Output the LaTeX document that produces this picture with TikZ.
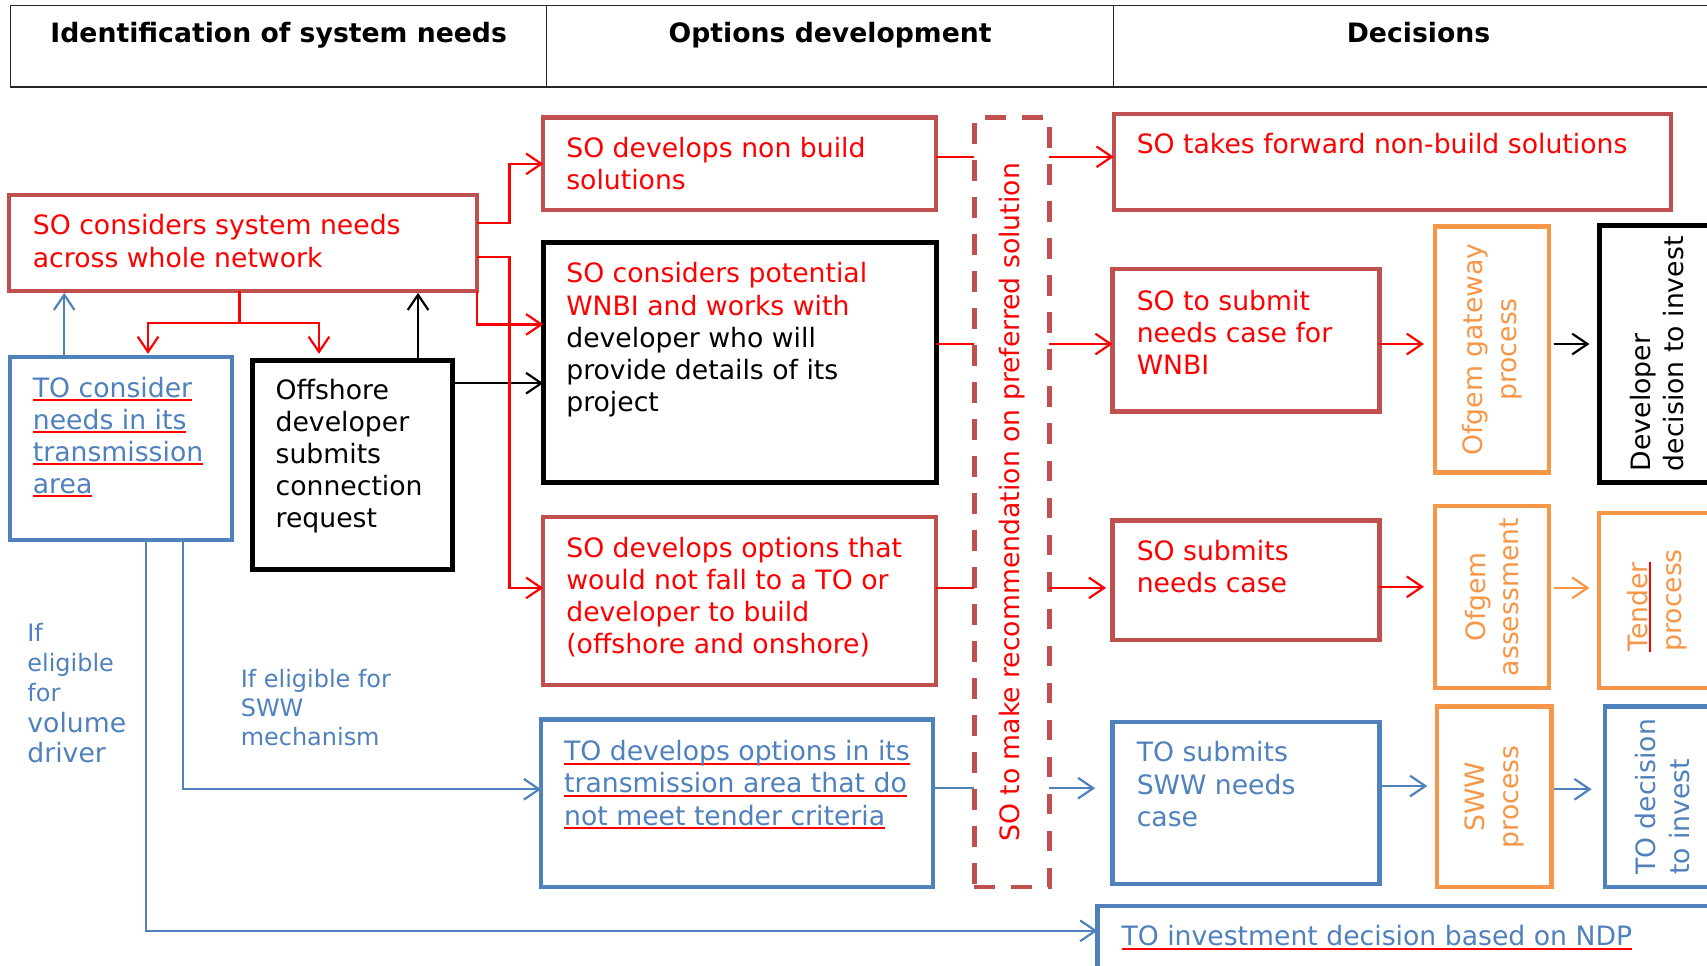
\documentclass[tikz,border=0pt]{standalone}
\usepackage{fontspec}
\setmainfont{DejaVu Sans}
\usetikzlibrary{arrows.meta}
\definecolor{boxred}{HTML}{C0504D}
\definecolor{txred}{HTML}{FF0000}
\definecolor{toblue}{HTML}{4F81BD}
\definecolor{oforange}{HTML}{F79646}
\newlength\rulw
\newcommand\rul[1]{\settowidth\rulw{#1}\rlap{\textcolor{txred}{\rule[-3.4pt]{\rulw}{1.8pt}}}#1}
\newcommand\bodyfont{\fontsize{24.5}{29.5}\selectfont}
\newcommand\labfont{\fontsize{22}{27.5}\selectfont}
\begin{document}
\begin{tikzpicture}[x=1pt,y=-1pt,
  box/.style={draw, rectangle, line width=4pt, inner sep=0pt, outer sep=0pt, anchor=north west},
  redbox/.style={box, draw=boxred},
  bluebox/.style={box, draw=toblue},
  blackbox/.style={box, draw=black, line width=4.5pt},
  orbox/.style={box, draw=oforange},
  hcell/.style={draw=black!85, line width=1pt, rectangle, inner sep=0pt, outer sep=0pt, anchor=north west, minimum height=75},
  htxt/.style={font=\bodyfont\bfseries, inner sep=0pt, anchor=north},
  txt/.style={font=\bodyfont, align=left, inner sep=0pt, anchor=north west},
  rtxt/.style={font=\fontsize{24.5}{31}\selectfont, inner sep=0pt, rotate=90},
  conn/.style={line width=2pt, -{Straight Barb[length=14pt,width=19pt]}},
  plain/.style={line width=2pt},
]
\useasboundingbox (0,0) rectangle (1568,887);
\fill[white] (0,0) rectangle (1568,887);

% header
\node[hcell, minimum width=492] (h1) at (10,5) {};
\node[hcell, minimum width=521] (h2) at (502,5) {};
\node[hcell, minimum width=560] (h3) at (1023,5) {};
\draw[black!85, line width=2pt] (h1.south west) -- (h3.south east);
\node[htxt] (h1T) at ([yshift=-13pt]h1.north) {\strut Identification of system needs};
\node[htxt] (h2T) at ([yshift=-13pt]h2.north) {\strut Options development};
\node[htxt] (h3T) at ([yshift=-13pt]h3.north) {\strut Decisions};

% identification column
\node[redbox, minimum width=430, minimum height=88] (soneeds) at (8,179) {};
\node[txt, text=txred] (soneedsT) at ([shift={(22,16)}]soneeds.north west) {\strut SO considers system needs\\across whole network};

\node[bluebox, minimum width=204, minimum height=168] (toneeds) at (9,328) {};
\node[txt, text=toblue] (toneedsT) at ([shift={(21,16)}]toneeds.north west) {\strut\rul{TO consider}\\\rul{needs in its}\\\rul{transmission}\\\rul{area}};

\node[blackbox, minimum width=184, minimum height=192] (offshore) at (232,331) {};
\node[txt] (offshoreT) at ([shift={(21,15)}]offshore.north west) {\strut Offshore\\developer\\submits\\connection\\request};

\node[txt, text=toblue, font=\labfont] (vol1) at (25,570) {\strut If\\eligible\\for};
\node[txt, text=toblue, font=\fontsize{24.5}{28}\selectfont] (vol2) at (25,653) {\strut volume\\driver};
\node[txt, text=toblue, font=\fontsize{22}{26.5}\selectfont] (swwlab) at (221,613) {\strut If eligible for\\SWW\\mechanism};

% options column
\node[redbox, minimum width=361, minimum height=85] (nonbuild) at (499,108) {};
\node[txt, text=txred] (nonbuildT) at ([shift={(21,16)}]nonbuild.north west) {\strut SO develops non build\\solutions};

\node[blackbox, minimum width=361, minimum height=220] (wnbi) at (499,223) {};
\node[txt] (wnbiT) at ([shift={(21,16)}]wnbi.north west) {\strut\textcolor{txred}{SO considers potential}\\\textcolor{txred}{WNBI and works with}\\developer who will\\provide details of its\\project};

\node[redbox, minimum width=361, minimum height=154] (soopts) at (499,475) {};
\node[txt, text=txred] (sooptsT) at ([shift={(21,16)}]soopts.north west) {\strut SO develops options that\\would not fall to a TO or\\developer to build\\(offshore and onshore)};

\node[bluebox, minimum width=360, minimum height=154] (toopts) at (497,661) {};
\node[txt, text=toblue] (tooptsT) at ([shift={(21,17)}]toopts.north west) {\strut\rul{TO develops options in its}\\\rul{transmission area that do}\\\rul{not meet tender criteria}};

\node[box, draw=boxred, dash pattern=on 19pt off 15pt, minimum width=69, minimum height=707] (recbox) at (895,108) {};
\node[rtxt, text=txred] (recT) at (recbox.center) {SO to make recommendation on preferred solution};

% decisions column
\node[redbox, minimum width=512, minimum height=88] (takefwd) at (1023,105) {};
\node[txt, text=txred] (takefwdT) at ([shift={(21,15)}]takefwd.north west) {\strut SO takes forward non-build solutions};

\node[redbox, minimum width=245, minimum height=131] (submitwnbi) at (1022,247) {};
\node[txt, text=txred] (submitwnbiT) at ([shift={(22,17)}]submitwnbi.north west) {\strut SO to submit\\needs case for\\WNBI};

\node[orbox, minimum width=105, minimum height=226] (gateway) at (1318,208) {};
\node[rtxt, text=oforange, align=center] (gatewayT) at (gateway.center) {Ofgem gateway\\process};

\node[blackbox, minimum width=106, minimum height=236] (devdec) at (1469,207) {};
\node[rtxt, align=left] (devdecT) at (devdec.center) {Developer\\decision to invest};

\node[redbox, minimum width=245, minimum height=110] (sosubmits) at (1022,478) {};
\node[txt, text=txred] (sosubmitsT) at ([shift={(22,16)}]sosubmits.north west) {\strut SO submits\\needs case};

\node[orbox, minimum width=105, minimum height=167] (assess) at (1318,465) {};
\node[rtxt, text=oforange, align=center] (assessT) at (assess.center) {Ofgem\\assessment};

\node[orbox, minimum width=106, minimum height=161] (tender) at (1469,471) {};
\node[rtxt, text=oforange, align=left] (tenderT) at (tender.center) {\rul{Tender}\\process};

\node[bluebox, minimum width=245, minimum height=149] (towsubmit) at (1022,663) {};
\node[txt, text=toblue] (towsubmitT) at ([shift={(22,16)}]towsubmit.north west) {\strut TO submits\\SWW needs\\case};

\node[orbox, minimum width=105, minimum height=166] (swwproc) at (1320,649) {};
\node[rtxt, text=oforange, align=center] (swwprocT) at (swwproc.center) {SWW\\process};

\node[bluebox, minimum width=106, minimum height=166] (todec) at (1474,649) {};
\node[rtxt, text=toblue, align=left] (todecT) at (todec.center) {TO decision\\to invest};

\node[bluebox, minimum width=600, minimum height=80] (ndp) at (1008,832) {};
\node[txt, text=toblue] (ndpT) at ([shift={(22,16)}]ndp.north west) {\strut\rul{TO investment decision based on NDP}};

% connectors, identification column
\coordinate (split) at (220,297);
\draw[plain, txred] (soneeds.south -| split) -- (split);
\draw[conn, txred, shorten >=3pt] (split) -| (toneeds.north -| 136,0);
\draw[conn, txred, shorten >=6pt] (split) -| (offshore.north -| 293,0);
\draw[conn, toblue, shorten >=2pt] (toneeds.north -| 59,0) -- (soneeds.south -| 59,0);
\draw[conn, shorten >=2pt] (offshore.north -| 384,0) -- (soneeds.south -| 384,0);
\draw[conn] (offshore.east |- 0,352) -- (wnbi.west |- 0,352);
\draw[conn, txred] (soneeds.east |- 0,205) -- (468,205) |- (nonbuild.west);
\draw[conn, txred] (soneeds.east |- 0,236) -- (468,236) |- (soopts.west |- 0,540);
\draw[conn, txred] (soneeds.south east) |- (wnbi.west |- 0,298);
\draw[conn, toblue] (toneeds.south -| 134,0) |- (ndp.west |- 0,855);
\draw[conn, toblue] (toneeds.south -| 168,0) |- (toopts.west |- 0,725);

% through the recommendation box
\draw[plain, txred] (nonbuild.east |- 0,144) -- (recbox.west |- 0,144);
\draw[conn, txred] (recbox.east |- 0,144) -- (takefwd.west |- 0,144);
\draw[plain, txred] (wnbi.east |- 0,316) -- (recbox.west |- 0,316);
\draw[conn, txred] (recbox.east |- 0,316) -- (submitwnbi.west |- 0,316);
\draw[plain, txred] (soopts.east |- 0,540) -- (recbox.west |- 0,540);
\draw[conn, txred, shorten >=6pt] (recbox.east |- 0,540) -- (sosubmits.west |- 0,540);
\draw[plain, toblue] (toopts.east |- 0,724) -- (recbox.west |- 0,724);
\draw[conn, toblue, shorten >=16pt] (recbox.east |- 0,724) -- (towsubmit.west |- 0,724);

% decisions
\draw[conn, txred, shorten >=10pt] (submitwnbi.east |- 0,316) -- (gateway.west |- 0,316);
\draw[conn, shorten <=4pt, shorten >=9pt] (gateway.east |- 0,316) -- (devdec.west |- 0,316);
\draw[conn, txred, shorten >=10pt] (sosubmits.east |- 0,539) -- (assess.west |- 0,539);
\draw[conn, oforange, shorten <=4pt, shorten >=9pt] (assess.east |- 0,540) -- (tender.west |- 0,540);
\draw[conn, toblue, shorten >=9pt] (towsubmit.east |- 0,722) -- (swwproc.west |- 0,722);
\draw[conn, toblue, shorten <=2pt, shorten >=12pt] (swwproc.east |- 0,725) -- (todec.west |- 0,725);
\end{tikzpicture}
\end{document}
